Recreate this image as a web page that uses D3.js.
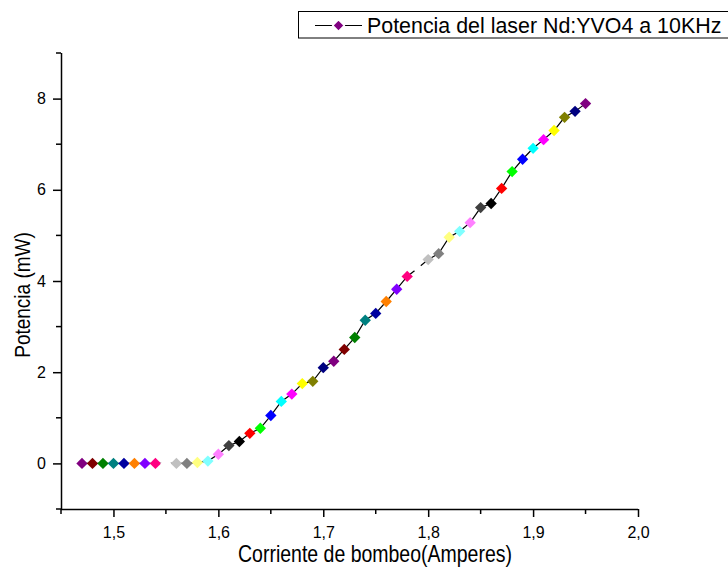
<!DOCTYPE html>
<html><head><meta charset="utf-8">
<script src="https://cdn.jsdelivr.net/npm/d3@7"></script>
<style>body{margin:0;background:#fff}svg{display:block;font-family:"Liberation Sans",Arial,sans-serif}</style>
</head><body><svg id="c" width="728" height="567"></svg>
<script>
const corriente = [1.47,1.48,1.49,1.50,1.51,1.52,1.53,1.54,1.55,1.56,1.57,1.58,1.59,1.60,1.61,1.62,1.63,1.64,1.65,1.66,1.67,1.68,1.69,1.70,1.71,1.72,1.73,1.74,1.75,1.76,1.77,1.78,1.79,1.80,1.81,1.82,1.83,1.84,1.85,1.86,1.87,1.88,1.89,1.90,1.91,1.92,1.93,1.94,1.95];
const potencia = [0,0,0,0,0,0,0,0,0,0,0,0.02,0.05,0.2,0.39,0.48,0.66,0.77,1.05,1.36,1.52,1.75,1.8,2.1,2.24,2.5,2.76,3.14,3.29,3.55,3.82,4.1,4.28,4.47,4.6,4.96,5.09,5.28,5.61,5.7,6.03,6.4,6.67,6.91,7.1,7.3,7.59,7.72,7.89];
const palette = ["#800080","#800000","#008000","#008080","#0000A0","#FF8000","#8000FF","#FF0080","#FFFFFF","#C0C0C0","#808080","#FFFF80","#80FFFF","#FF80FF","#404040","#000000","#FF0000","#00FF00","#0000FF","#00FFFF","#FF00FF","#FFFF00","#808000","#000080"];
const xTicks = [1.5,1.6,1.7,1.8,1.9,2.0];
const yTicks = [0,2,4,6,8];
const seriesName = "Potencia del laser Nd:YVO4 a 10KHz";
const xTitle = "Corriente de bombeo(Amperes)";
const yTitle = "Potencia (mW)";

const svg = d3.select("#c");
const x = d3.scaleLinear().domain([1.45,2.0]).range([61,638]);
const y = d3.scaleLinear().domain([-1,9]).range([509,53]);
const fmt = d => d3.format(".1f")(d).replace(".", ",");

const xMinor = d3.range(1.45,2.0,0.1).map(v=>+v.toFixed(2));
const yMinor = [-1,1,3,5,7,9];

const gx = svg.append("g").attr("transform","translate(0,509)");
gx.call(d3.axisBottom(x).tickValues(xTicks).tickFormat(fmt).tickSize(8).tickPadding(10));
gx.append("g").selectAll("line").data(xMinor).join("line")
  .attr("x1",d=>x(d)).attr("x2",d=>x(d)).attr("y1",0).attr("y2",5).attr("stroke","#000").attr("stroke-width",1.5);
const gy = svg.append("g").attr("transform","translate(61,0)");
gy.call(d3.axisLeft(y).tickValues(yTicks).tickFormat(d=>d).tickSize(8).tickPadding(7));
gy.append("g").selectAll("line").data(yMinor).join("line")
  .attr("y1",d=>y(d)).attr("y2",d=>y(d)).attr("x1",0).attr("x2",-5).attr("stroke","#000").attr("stroke-width",1.5);
[gx,gy].forEach(g=>{
  g.select(".domain").attr("stroke","#000").attr("stroke-width",1.5);
  g.selectAll(".tick line").attr("stroke","#000").attr("stroke-width",1.5);
  g.selectAll(".tick text").attr("font-size",16).attr("fill","#000").attr("font-family","Liberation Sans, Arial, sans-serif");
});
gx.select(".domain").attr("d","M61,0.5H638");
gy.select(".domain").attr("d","M0.5,53V509");

const data = corriente.map((c,i)=>({x:c,y:potencia[i],col:palette[i%palette.length]}));
svg.append("path").datum(data)
  .attr("d", d3.line().x(d=>x(d.x)).y(d=>y(d.y)))
  .attr("fill","none").attr("stroke","#000").attr("stroke-width",1.2);
const diamond = d3.symbol().type(d3.symbolDiamond2).size(82);
svg.append("g").selectAll("path").data(data).join("path")
  .attr("transform",d=>`translate(${x(d.x)},${y(d.y)})`)
  .attr("d",diamond).attr("fill",d=>d.col);

svg.append("text").attr("transform","translate(375,562) scale(1,1.2)").attr("text-anchor","middle")
  .attr("font-size",19.5).text(xTitle);
svg.append("text").attr("transform","translate(30,295) rotate(-90) scale(1,1.2)").attr("text-anchor","middle")
  .attr("font-size",19).text(yTitle);

const lg = svg.append("g");
lg.append("rect").attr("x",298.5).attr("y",11.5).attr("width",440).attr("height",26.5).attr("fill","#fff").attr("stroke","#000").attr("stroke-width",1);
lg.append("line").attr("x1",315).attr("x2",362).attr("y1",25.5).attr("y2",25.5).attr("stroke","#000").attr("stroke-width",1);
lg.append("path").attr("transform","translate(338.5,25.5)").attr("d",d3.symbol().type(d3.symbolDiamond2).size(84)).attr("fill",palette[0]).attr("stroke","#fff").attr("stroke-width",1.5);
lg.append("text").attr("x",367).attr("y",32.5).attr("font-size",21.4).text(seriesName);
</script></body></html>
